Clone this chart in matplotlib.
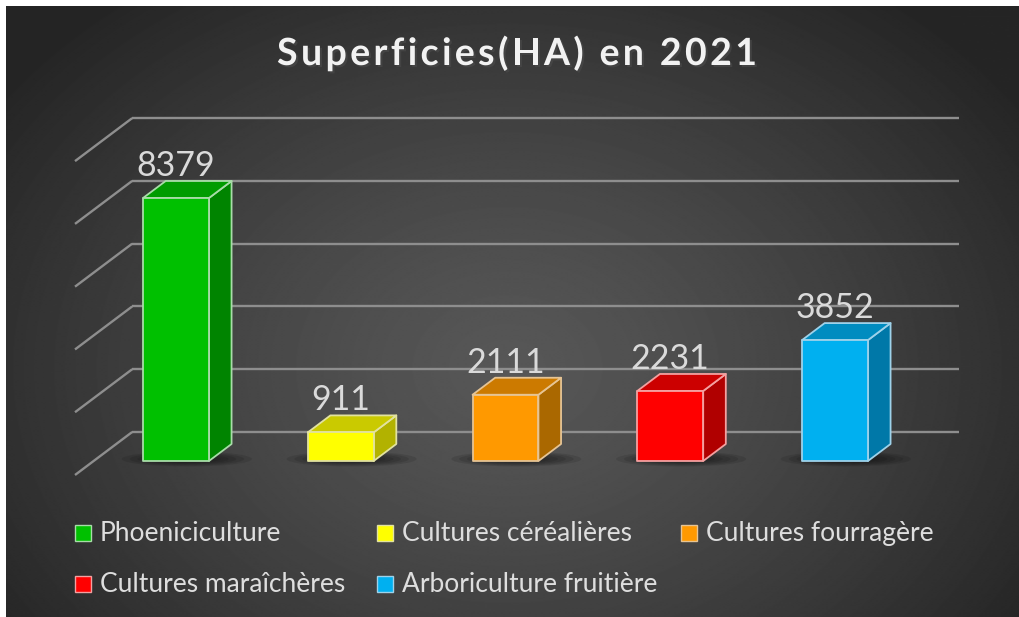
import numpy as np
import matplotlib.pyplot as plt
from matplotlib.patches import Polygon, Ellipse, Rectangle
import matplotlib.patheffects as pe

W, H = 1019, 617

categories = ["Phoeniciculture", "Cultures céréalières", "Cultures fourragère",
              "Cultures maraîchères", "Arboriculture fruitière"]
values = [8379, 911, 2111, 2231, 3852]
front_colors = ["#00c000", "#ffff00", "#ff9900", "#ff0000", "#00b0f0"]
top_colors = ["#009c00", "#caca00", "#cc7a00", "#cc0000", "#008cc0"]
side_colors = ["#008400", "#b2b200", "#aa6800", "#b00000", "#0078a8"]
edge_colors = ["#a8dca8", "#e2e2a0", "#e6c494", "#f4a0a0", "#9ed2ea"]
grid_values = [0, 2000, 4000, 6000, 8000, 10000]
title = "Superficies(HA) en 2021"

# oblique projection, in pixels
X0 = 176.0            # first bar centre (front face)
STEP = 164.75         # px between categories
BASE = 461.0          # value 0 on the bar front face
PPU = 263.0 / 8379    # px per unit of value
SLANT = 1.33          # horizontal px per vertical px of depth
BAR_HALF = 0.2
BAR_DEPTH = 17
WALL = 29
FLOOR = -14

FONT = ["Lato", "DejaVu Sans"]


def pt(x, v, d=0.0):
    return (x + SLANT * d / STEP, v + d / PPU)


def fig_xy(x, y):
    return x / W, 1 - y / H


fig = plt.figure(figsize=(W / 100, H / 100), dpi=100, facecolor="white")
renderer = fig.canvas.get_renderer()

# dark radial background, white strip on the left and top only
bg = fig.add_axes([0, 0, 1, 1])
yy, xx = np.mgrid[0:H - 6, 0:W - 6]
r = np.sqrt(((xx - 500) / 620.0) ** 2 + ((yy - 360) / 470.0) ** 2)
shade = 0x57 - (0x57 - 0x25) * np.clip(r, 0, 1) ** 1.3
bg.imshow(shade, cmap="gray", vmin=0, vmax=255, aspect="auto",
          interpolation="bilinear", extent=(6, W + 2, H + 2, 6))
bg.set_xlim(0, W)
bg.set_ylim(H, 0)
bg.axis("off")

ax = fig.add_axes([0, 0, 1, 1])
ax.set_xlim((0 - X0) / STEP, (W - X0) / STEP)
ax.set_ylim((BASE - H) / PPU, BASE / PPU)
ax.axis("off")

# back wall gridlines and floor diagonals
for g in grid_values:
    a = pt(-0.5, g, WALL)
    b = pt(4.52, g, WALL)
    f = pt(-0.5, g, FLOOR)
    ax.plot([a[0], b[0]], [a[1], b[1]], color="#8e8e8e", lw=1.7,
            solid_capstyle="butt", zorder=1)
    ax.plot([f[0], a[0]], [f[1], a[1]], color="#8e8e8e", lw=1.7,
            solid_capstyle="butt", zorder=1)

for i, v in enumerate(values):
    # soft shadow on the floor
    c = pt(i + 0.05, 0, 2)
    for k in range(7):
        s = 1 - k * 0.12
        ax.add_patch(Ellipse(c, 130 * s / STEP, 15 * s / PPU,
                             color="black", alpha=0.10, lw=0, zorder=2))

    l, rr = i - BAR_HALF, i + BAR_HALF
    front = [pt(l, 0), pt(rr, 0), pt(rr, v), pt(l, v)]
    top = [pt(l, v), pt(rr, v), pt(rr, v, BAR_DEPTH), pt(l, v, BAR_DEPTH)]
    side = [pt(rr, 0), pt(rr, 0, BAR_DEPTH), pt(rr, v, BAR_DEPTH), pt(rr, v)]
    for poly, col in ((side, side_colors[i]), (top, top_colors[i]),
                      (front, front_colors[i])):
        ax.add_patch(Polygon(poly, closed=True, facecolor=col,
                             edgecolor=edge_colors[i], lw=1.3,
                             joinstyle="round", zorder=3))

    ax.text(i, v + (BAR_DEPTH + 5) / PPU, str(v), ha="center", va="baseline",
            color="#dadada", fontsize=24.5, family=FONT, zorder=4)

# title, letter-spaced like the original
title_kw = dict(fontsize=27, fontweight="bold", family=FONT)
TITLE_LEFT, TITLE_RIGHT, TITLE_BASE = 277, 757, 65


def text_width(s):
    t = fig.text(0, 0, s + "|", **title_kw)
    bar = fig.text(0, 0, "|", **title_kw)
    w = t.get_window_extent(renderer).width - bar.get_window_extent(renderer).width
    t.remove()
    bar.remove()
    return w


natural = text_width(title)
gap = (TITLE_RIGHT - TITLE_LEFT - natural) / (len(title) - 1)
for k, ch in enumerate(title):
    if ch == " ":
        continue
    x = TITLE_LEFT + text_width(title[:k]) + k * gap
    fig.text(*fig_xy(x, TITLE_BASE), ch, ha="left", va="baseline",
             color="#f2f2f2", **title_kw,
             path_effects=[pe.SimplePatchShadow(offset=(1.5, -1.5), alpha=0.7),
                           pe.Normal()])

# legend, laid out row by row
col_x = [75, 377, 681]
row_y = [541, 592]
for i, name in enumerate(categories):
    x = col_x[i % 3]
    y = row_y[i // 3]
    x0, y0 = fig_xy(x, y)
    fig.patches.append(Rectangle((x0, y0), 16 / W, 16 / H,
                                 transform=fig.transFigure,
                                 facecolor=front_colors[i],
                                 edgecolor=edge_colors[i], lw=1.0))
    fig.text(*fig_xy(x + 25, y), name, ha="left", va="baseline",
             color="#dedede", fontsize=19, family=FONT)

fig.savefig("out.png", dpi=100, facecolor=fig.get_facecolor())
